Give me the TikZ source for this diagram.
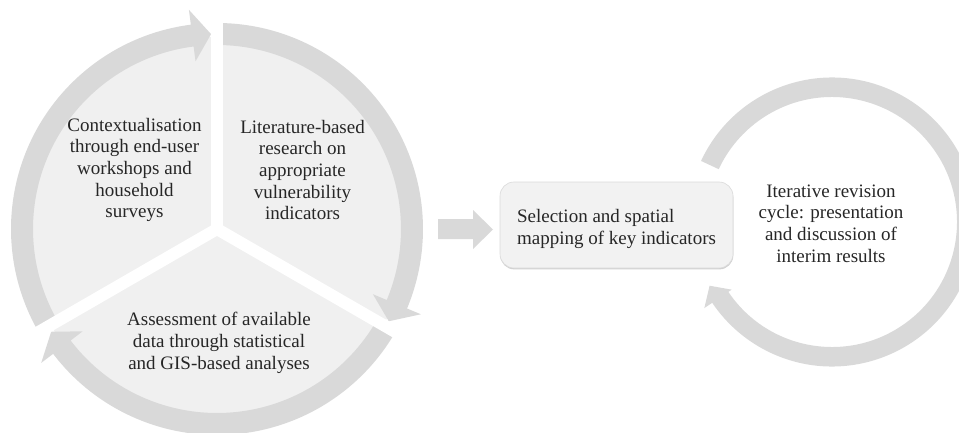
\documentclass[tikz,border=0pt]{standalone}
\usepackage{fontspec}
\setmainfont{Liberation Serif}
\usetikzlibrary{calc}
\definecolor{bandgray}{HTML}{D9D9D9}
\definecolor{fillgray}{HTML}{F0F0F0}
\definecolor{boxgray}{HTML}{F2F2F2}
\definecolor{boxline}{HTML}{DADADA}
\definecolor{txtgray}{HTML}{262626}
\begin{document}
\begin{tikzpicture}[x=1pt,y=1pt,
  lbl/.style={font=\fontsize{19}{21.7}\selectfont, text=txtgray, align=center, inner sep=0pt},
  band/.style={fill=bandgray},
  gapline/.style={draw=white, line width=12pt}]
\useasboundingbox (0,0) rectangle (959,432);
\clip (0,0) rectangle (959,432);

% ---------- left segmented cycle ----------
\coordinate (L) at (217,203);
\begin{scope}[shift={(L)}]
  \fill[fillgray] (0,0) circle[radius=192];
  % top-left segment arrow
  \fill[band] (210:206) arc[start angle=210, end angle=97.3, radius=206]
     -- (97.3:221) -- (91.75:195) -- (97.3:169) -- (97.3:184)
     arc[start angle=97.3, end angle=210, radius=184] -- cycle;
  % right segment arrow
  \fill[band] (90:206) arc[start angle=90, end angle=-22.7, radius=206]
     -- (-22.7:221) -- (-28.24:195) -- (-22.7:169) -- (-22.7:184)
     arc[start angle=-22.7, end angle=90, radius=184] -- cycle;
  % bottom segment arrow
  \fill[band] (-30:206) arc[start angle=-30, end angle=-142.7, radius=206]
     -- (-142.7:221) -- (-148.24:195) -- (-142.7:169) -- (-142.7:184)
     arc[start angle=-142.7, end angle=-30, radius=184] -- cycle;
  % white gaps between segments
  \foreach \a in {90,-30,210} \draw[gapline] (0,0) -- (\a:240);
\end{scope}

\node[lbl] (ctx) at (134.5,262) {Contextualisation\\through end-user\\workshops and\\household\\surveys};
\node[lbl] (lit) at (302.5,262) {Literature-based\\research on\\appropriate\\vulnerability\\indicators};
\node[lbl] (ass) at (219,89) {Assessment of available\\data through statistical\\and GIS-based analyses};

% ---------- block arrow ----------
\fill[bandgray] (438,213) -- (473,213) -- (473,222) -- (493,202.5)
  -- (473,183) -- (473,193) -- (438,193) -- cycle;

% ---------- selection box ----------
\fill[black!18, rounded corners=14pt] (500.3,162.6) rectangle (733.3,248.6);
\node[draw=boxline, line width=0.6pt, fill=boxgray, rounded corners=14pt,
  minimum width=233pt, minimum height=86pt, inner sep=0pt] (sel) at (616.5,207) {};
\node[lbl, align=left] (seltxt) at (616.5,203) {Selection and spatial\\mapping of key indicators};

% ---------- iterative revision cycle ----------
\coordinate (R) at (832,210);
\begin{scope}[shift={(R)}]
  \fill[band] (155:144.5) arc[start angle=155, end angle=-146, radius=144.5]
     -- (-146:154) -- (-152.5:138) -- (-146:121) -- (-146:125)
     arc[start angle=-146, end angle=155, radius=125] -- cycle;
\end{scope}
\node[lbl] (rev) at (831,208.5) {Iterative revision\\cycle: presentation\\and discussion of\\interim results};
\end{tikzpicture}
\end{document}
